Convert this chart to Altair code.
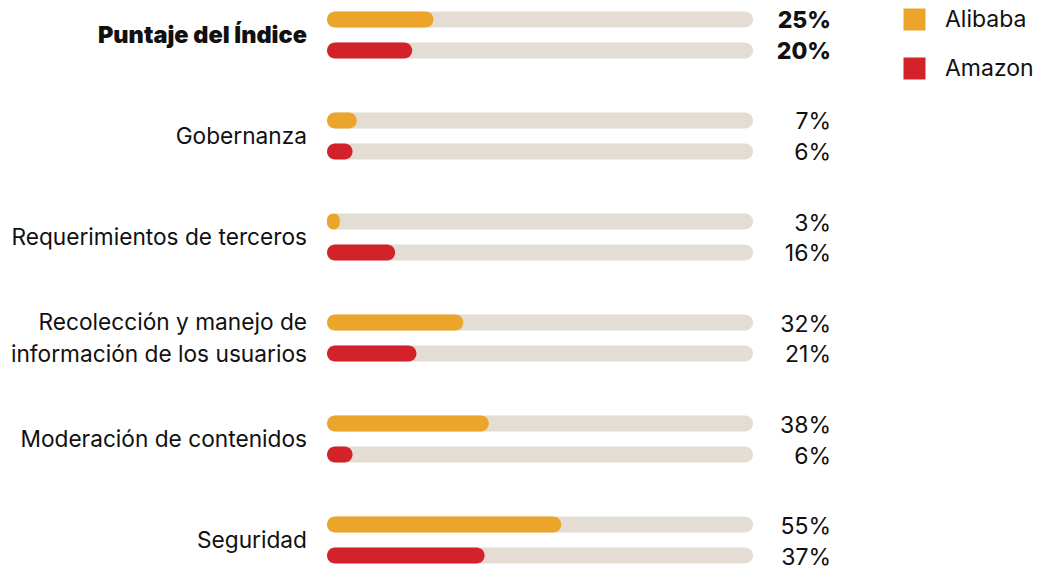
import altair as alt
import pandas as pd

categories = [
    "Puntaje del Índice",
    "Gobernanza",
    "Requerimientos de terceros",
    "Recolección y manejo de\ninformación de los usuarios",
    "Moderación de contenidos",
    "Seguridad",
]
companies = ["Alibaba", "Amazon"]
alibaba = [25, 7, 3, 32, 38, 55]
amazon = [20, 6, 16, 21, 6, 37]
colors = ["#EBA52A", "#D3222A"]
track_color = "#E4DDD3"
FONT = "Inter"

rows = []
for i, c in enumerate(categories):
    for comp, vals in zip(companies, [alibaba, amazon]):
        rows.append({"cat": c, "company": comp, "value": vals[i], "full": 100,
                     "label": f"{vals[i]}%", "first": i == 0})
df = pd.DataFrame(rows)
cat_df = pd.DataFrame({
    "cat": categories,
    "first": [i == 0 for i in range(len(categories))],
    "multi": ["\n" in c for c in categories],
})

yscale = alt.Scale(domain=categories, range=[0, 575], paddingInner=0.307, paddingOuter=0)
y_enc = alt.Y("cat:N", scale=yscale, axis=None, sort=categories)
yoff_enc = alt.YOffset("company:N", scale=alt.Scale(domain=companies, paddingOuter=0.129, paddingInner=0))

xscale = alt.Scale(domain=[0, 100])

base = alt.Chart(df)

track = base.mark_bar(size=16, cornerRadius=8, color=track_color).encode(
    x=alt.X("full:Q", scale=xscale, axis=None),
    x2=alt.datum(0),
    y=y_enc,
    yOffset=yoff_enc,
)

bars = base.mark_bar(size=16, cornerRadius=8).encode(
    x=alt.X("value:Q", scale=xscale, axis=None),
    x2=alt.datum(0),
    y=y_enc,
    yOffset=yoff_enc,
    color=alt.Color(
        "company:N",
        scale=alt.Scale(domain=companies, range=colors),
        legend=alt.Legend(
            title=None,
            orient="none",
            legendX=576,
            legendY=8,
            symbolType="square",
            symbolSize=484,
            symbolStrokeWidth=0,
            labelFont=FONT,
            labelFontSize=23,
            labelColor="#111111",
            labelOffset=19,
            rowPadding=25,
        ),
    ),
)

def pct_layer(first, weight):
    return base.transform_filter(
        "datum.first" if first else "!datum.first"
    ).mark_text(align="right", baseline="middle", fontSize=23, font=FONT,
                color="#111111", fontWeight=weight, dy=2).encode(
        x=alt.value(504),
        y=y_enc,
        yOffset=yoff_enc,
        text="label:N",
    )

def cat_layer(filt, weight, dy, size):
    return alt.Chart(cat_df).transform_filter(filt).mark_text(
        align="right", baseline="middle", fontSize=size, font=FONT, color="#111111",
        lineBreak="\n", lineHeight=32, fontWeight=weight, dy=dy,
    ).encode(
        x=alt.value(-20),
        y=y_enc,
        text="cat:N",
    )

chart = alt.layer(
    track, bars,
    pct_layer(True, 800), pct_layer(False, "normal"),
    cat_layer("datum.first", 900, 1, 23.5),
    cat_layer("!datum.first && !datum.multi", "normal", 1, 22.7),
    cat_layer("datum.multi", "normal", -15, 22.7),
).properties(
    width=426,
    height=569,
    autosize=alt.AutoSizeParams(type="none"),
    padding={"left": 327, "top": 0, "right": 289, "bottom": 0},
    background="white",
).configure_view(stroke=None)

chart.save("out.html", embed_options={"renderer": "svg", "actions": False})
